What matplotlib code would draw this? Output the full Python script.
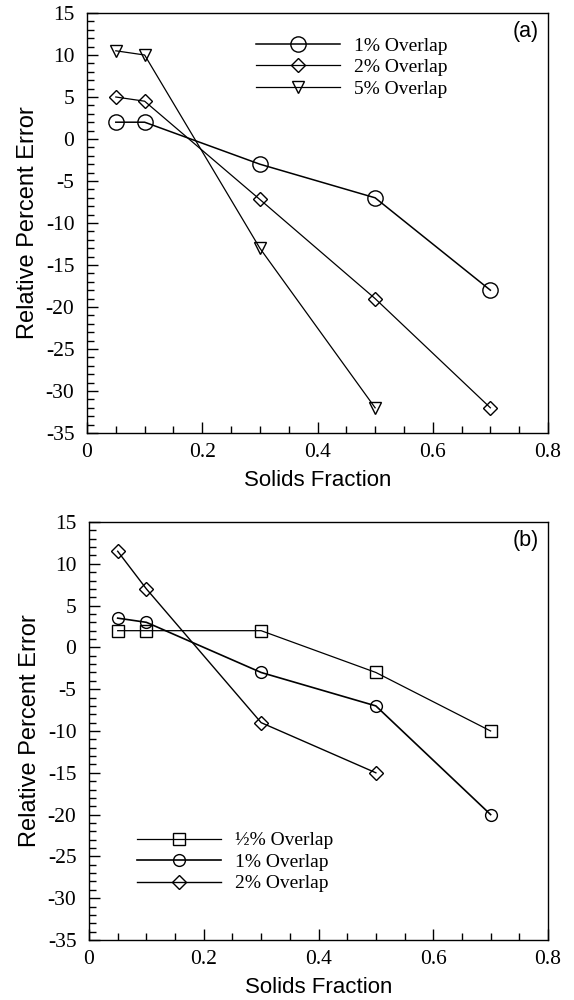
import matplotlib
matplotlib.use("Agg")
import matplotlib.pyplot as plt
from matplotlib.ticker import MultipleLocator

# ---- data: panel (a) ----
x_a_1 = [0.05, 0.1, 0.3, 0.5, 0.7]
y_a_1 = [2.0, 2.0, -3.0, -7.0, -18.0]
x_a_2 = [0.05, 0.1, 0.3, 0.5, 0.7]
y_a_2 = [5.0, 4.5, -7.2, -19.0, -32.0]
x_a_5 = [0.05, 0.1, 0.3, 0.5]
y_a_5 = [10.5, 10.0, -13.0, -32.0]
labels_a = ["1% Overlap", "2% Overlap", "5% Overlap"]

# ---- data: panel (b) ----
x_b_h = [0.05, 0.1, 0.3, 0.5, 0.7]
y_b_h = [2.0, 2.0, 2.0, -3.0, -10.0]
x_b_1 = [0.05, 0.1, 0.3, 0.5, 0.7]
y_b_1 = [3.5, 3.0, -3.0, -7.0, -20.0]
x_b_2 = [0.05, 0.1, 0.3, 0.5]
y_b_2 = [11.5, 7.0, -9.0, -15.0]
labels_b = ["\u00bd% Overlap", "1% Overlap", "2% Overlap"]

xticks = [0, 0.2, 0.4, 0.6, 0.8]
xticklabels = ["0", "0.2", "0.4", "0.6", "0.8"]
yticks = [15, 10, 5, 0, -5, -10, -15, -20, -25, -30, -35]
yticklabels = [str(v) for v in yticks]

SERIF = "Liberation Serif"
SANS = "Liberation Sans"

fig = plt.figure(figsize=(5.74, 10.0), dpi=100)
ax_a = fig.add_axes([87/574, 1-433/1000, 461/574, 420/1000])
ax_b = fig.add_axes([89/574, 1-940/1000, 459/574, 418/1000])

mk = dict(color="black", markerfacecolor="none", markeredgecolor="black")

ax_a.plot(x_a_1, y_a_1, marker="o", ms=11, lw=1.1, mew=1.0, label=labels_a[0], **mk)
ax_a.plot(x_a_2, y_a_2, marker="D", ms=7.5, lw=0.9, mew=1.0, label=labels_a[1], **mk)
ax_a.plot(x_a_5, y_a_5, marker="v", ms=9, lw=0.9, mew=1.0, label=labels_a[2], **mk)

ax_b.plot(x_b_h, y_b_h, marker="s", ms=8, lw=0.9, mew=1.0, label=labels_b[0], **mk)
ax_b.plot(x_b_1, y_b_1, marker="o", ms=8.5, lw=1.2, mew=1.0, label=labels_b[1], **mk)
ax_b.plot(x_b_2, y_b_2, marker="D", ms=7, lw=1.0, mew=1.0, label=labels_b[2], **mk)

for ax, tag in ((ax_a, "(a)"), (ax_b, "(b)")):
    ax.set_xlim(0, 0.8)
    ax.set_ylim(-35, 15)
    ax.set_xticks(xticks)
    ax.set_xticklabels(xticklabels, fontfamily=SERIF, fontsize=15.5)
    ax.set_yticks(yticks)
    ax.set_yticklabels(yticklabels, fontfamily=SERIF, fontsize=15.5)
    ax.xaxis.set_minor_locator(MultipleLocator(0.05))
    ax.yaxis.set_minor_locator(MultipleLocator(1))
    ax.tick_params(which="both", direction="in", top=False, right=False, width=1.0)
    ax.tick_params(which="major", length=8)
    ax.tick_params(which="minor", length=5)
    ax.tick_params(axis="x", which="major", pad=7)
    ax.tick_params(axis="y", which="major", pad=9)
    for s in ax.spines.values():
        s.set_linewidth(1.0)
    ax.set_xlabel("Solids Fraction", fontfamily=SANS, fontsize=16, labelpad=6)
    ax.set_ylabel("Relative Percent Error", fontfamily=SANS, fontsize=17, labelpad=5)
    ax.text(0.951, 0.955, tag, transform=ax.transAxes, ha="center", va="center",
            fontfamily=SANS, fontsize=15.5)

leg_kw = dict(frameon=False, loc="upper left", borderpad=0, borderaxespad=0,
              handlelength=4.3, handletextpad=0.75, labelspacing=0.2,
              prop={"family": SERIF, "size": 14})
ax_a.legend(bbox_to_anchor=(0.367, 0.943), **leg_kw)
ax_b.legend(bbox_to_anchor=(0.105, 0.259), **leg_kw)

fig.savefig("out.png", dpi=100)
